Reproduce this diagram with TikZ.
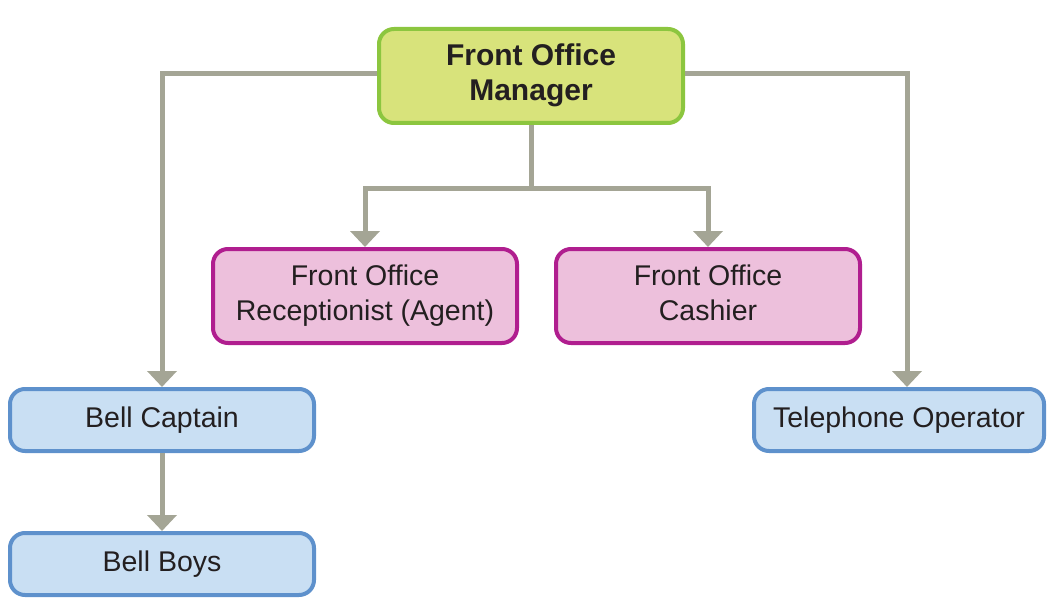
\documentclass[tikz,border=0pt]{standalone}
\usepackage{fontspec}
\setmainfont{Liberation Sans}
\usetikzlibrary{positioning,arrows.meta}
\definecolor{mgrfill}{HTML}{D8E37B}
\definecolor{mgrline}{HTML}{8CC63F}
\definecolor{staffill}{HTML}{EDC0DC}
\definecolor{staffline}{HTML}{B01E8F}
\definecolor{deskfill}{HTML}{C9DFF3}
\definecolor{deskline}{HTML}{5E91CC}
\definecolor{wiregray}{HTML}{A4A595}
\definecolor{ink}{HTML}{231F20}

\begin{document}
\begin{tikzpicture}
[x=1pt,y=-1pt,
 box/.style={draw,rounded corners=15pt,line width=4pt,minimum width=304pt,align=center,text=ink,font=\fontsize{28.5}{35}\selectfont},
 head/.style={box,fill=mgrfill,draw=mgrline,minimum height=94pt,font=\fontsize{30}{35}\selectfont\bfseries},
 staff/.style={box,fill=staffill,draw=staffline,minimum height=94pt},
 desk/.style={box,fill=deskfill,draw=deskline,minimum height=62pt},
 wire/.style={draw=wiregray,line width=5pt},
 link/.style={wire,-{Triangle[width=29pt,length=16pt]}}]
\useasboundingbox (0,0) rectangle (1048,604);
\node[head](mgr) at (531,76){Front Office\strut\\Manager\strut};
\node[staff](rec) at (365,296){Front Office\strut\\Receptionist (Agent)\strut};
\node[staff, right=35pt of rec](cash){Front Office\strut\\Cashier\strut};
\node[desk](cap) at (162,420){Bell Captain\strut};
\node[desk, below=78pt of cap](boys){Bell Boys\strut};
\node[desk,minimum width=290pt](tel) at (899,420){Telephone Operator\strut};
\coordinate (split) at (531,188);
% connectors
\draw[wire] (mgr.south) -- (split);
\draw[link] (split) -| (rec.north);
\draw[link] (split) -| (cash.north);
\draw[link] ([yshift=2pt]mgr.west) -| (cap.north);
\draw[link] ([yshift=2pt]mgr.east) -| ([xshift=8pt]tel.north);
\draw[link] (cap) -- (boys);
\end{tikzpicture}
\end{document}
